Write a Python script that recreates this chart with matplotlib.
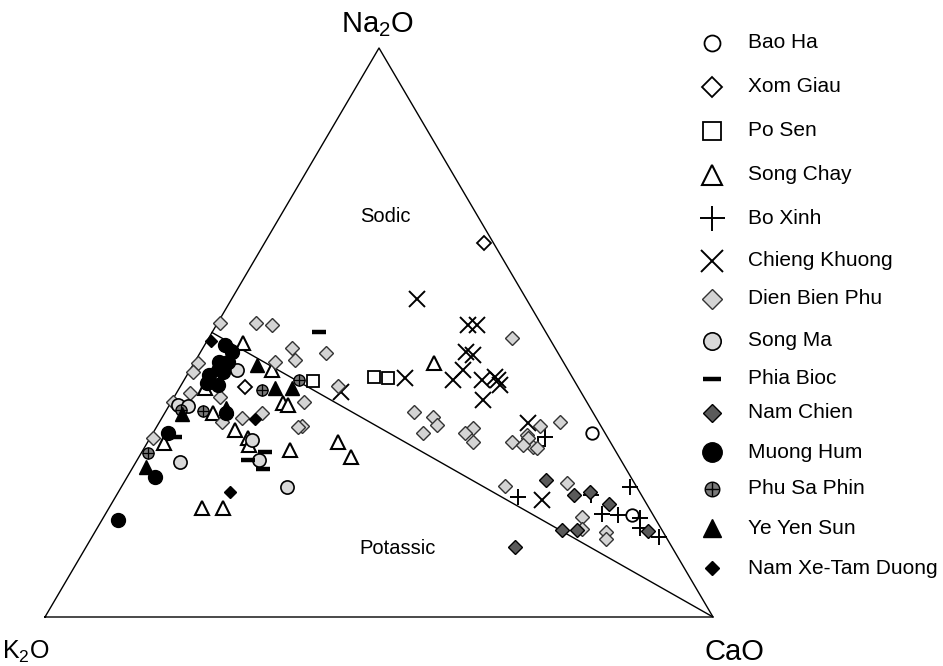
import matplotlib
matplotlib.use('Agg')
import matplotlib.pyplot as plt

plt.rcParams['font.family'] = ['Liberation Sans', 'DejaVu Sans']
plt.rcParams['mathtext.fontset'] = 'custom'
plt.rcParams['mathtext.rm'] = 'Liberation Sans'
plt.rcParams['mathtext.it'] = 'Liberation Sans:italic'

# ---- data: Na2O and CaO (normalised %); K2O = 100 - Na2O - CaO ----
bao_ha_na = [32.3, 17.9]
bao_ha_ca = [65.7, 78.9]

xom_giau_na = [65.7, 40.4]
xom_giau_ca = [32.9, 9.7]

po_sen_na = [41.5, 42.2, 42.0]
po_sen_ca = [19.4, 28.2, 30.3]

song_chay_na = [44.6, 30.8, 28.1, 32.9, 31.5, 30.2, 29.3, 19.2, 19.2, 30.6, 48.2, 43.4, 37.6, 37.3, 35.9, 40.2]
song_chay_ca = [35.9, 28.5, 31.7, 12.0, 14.7, 15.4, 22.0, 13.9, 17.0, 2.5, 5.5, 12.3, 16.8, 17.8, 7.2, 3.9]

bo_xinh_na = [31.6, 30.1, 21.1, 21.4, 22.8, 18.1, 17.9, 17.4, 15.6, 14.1]
bo_xinh_ca = [59.1, 58.8, 60.2, 71.0, 76.2, 74.4, 76.9, 80.4, 81.3, 84.8]

chieng_khuong_na = [55.9, 51.3, 51.3, 46.6, 46.0, 43.4, 41.7, 42.0, 39.5, 41.7, 41.7, 40.8, 38.1, 34.1, 20.6, 42.2]
chieng_khuong_ca = [27.8, 37.6, 39.0, 39.7, 41.1, 40.9, 40.3, 32.9, 24.5, 44.6, 46.9, 47.7, 46.5, 55.2, 64.1, 46.3]

dien_bien_phu_na = [49.0, 46.4, 40.6, 37.8, 33.6, 36.0, 35.1, 33.7, 32.3, 33.2, 32.3, 30.8, 30.8,
                    32.0, 29.9, 34.3, 33.6, 31.5, 30.2, 29.7, 23.0, 23.6, 17.6, 15.5, 14.9, 13.7,
                    51.7, 51.7, 51.3, 44.6, 43.1, 39.4, 37.8, 31.5, 47.3, 45.2, 44.8, 38.7, 34.3,
                    35.0, 35.9, 33.4]
dien_bien_phu_ca = [45.4, 18.9, 23.6, 19.9, 21.7, 37.2, 40.5, 41.8, 40.5, 47.5, 46.7, 48.7, 54.5,
                    56.2, 58.1, 59.9, 57.3, 56.5, 56.5, 58.8, 57.4, 66.3, 71.6, 72.6, 76.5, 77.1,
                    0.3, 5.8, 8.3, 0.6, 0.6, 2.0, 0.3, 0.4, 13.4, 14.8, 12.0, 6.8, 9.3,
                    12.0, 14.6, 21.2]

song_ma_na = [27.2, 31.1, 27.6, 22.8, 37.3, 37.1, 43.4]
song_ma_ca = [6.6, 15.5, 18.2, 24.8, 1.2, 2.9, 7.0]

phia_bioc_na = [50.1, 31.6, 29.0, 27.6, 26.0]
phia_bioc_ca = [15.9, 3.7, 18.4, 16.6, 19.6]

nam_chien_na = [24.1, 21.4, 22.0, 19.9, 15.1, 15.3, 15.3, 12.3]
nam_chien_ca = [62.9, 68.5, 70.6, 74.5, 82.7, 69.8, 72.0, 64.2]

muong_hum_na = [17.0, 24.6, 32.3, 46.6, 44.8, 43.1, 42.5, 40.8, 41.1, 35.9, 44.8, 47.8]
muong_hum_ca = [2.4, 4.2, 2.2, 4.7, 3.6, 5.1, 3.3, 5.5, 3.7, 9.2, 5.0, 3.0]

phu_sa_phin_na = [28.8, 36.2, 36.4, 39.9, 41.7]
phu_sa_phin_ca = [1.0, 5.6, 2.2, 12.6, 17.1]

ye_yen_sun_na = [26.4, 35.7, 44.3, 40.2, 40.2, 36.7, 43.8]
ye_yen_sun_ca = [1.9, 2.6, 9.6, 14.3, 16.9, 8.8, 3.5]

nam_xe_na = [48.5, 22.0, 34.8]
nam_xe_ca = [0.6, 16.7, 14.0]

# triangle outline and sodic/potassic divide (Na2O = K2O)
outline_na = [0, 0, 100, 0]
outline_ca = [0, 100, 0, 0]
divide_na = [50, 0]
divide_ca = [0, 100]

groups = ['Bao Ha', 'Xom Giau', 'Po Sen', 'Song Chay', 'Bo Xinh', 'Chieng Khuong',
          'Dien Bien Phu', 'Song Ma', 'Phia Bioc', 'Nam Chien', 'Muong Hum',
          'Phu Sa Phin', 'Ye Yen Sun', 'Nam Xe-Tam Duong']
data = [(bao_ha_na, bao_ha_ca), (xom_giau_na, xom_giau_ca), (po_sen_na, po_sen_ca),
        (song_chay_na, song_chay_ca), (bo_xinh_na, bo_xinh_ca),
        (chieng_khuong_na, chieng_khuong_ca), (dien_bien_phu_na, dien_bien_phu_ca),
        (song_ma_na, song_ma_ca), (phia_bioc_na, phia_bioc_ca), (nam_chien_na, nam_chien_ca),
        (muong_hum_na, muong_hum_ca), (phu_sa_phin_na, phu_sa_phin_ca),
        (ye_yen_sun_na, ye_yen_sun_ca), (nam_xe_na, nam_xe_ca)]

# marker styles: (marker, size in plot, size in legend, face, edge, edge width)
styles = [
    ('o', 9, 11.5, 'white', 'black', 1.3),
    ('D', 7.4, 10, 'white', 'black', 1.3),
    ('s', 9, 12.5, 'white', 'black', 1.3),
    ('^', 10.5, 14.5, 'white', 'black', 1.5),
    ('+', 11, 18, 'black', 'black', 1.4),
    ('x', 12, 16, 'black', 'black', 1.4),
    ('D', 7.6, 10.5, '#d4d4d4', '#333333', 1.0),
    ('o', 9.5, 12.5, '#d9d9d9', 'black', 1.2),
    ('_', 9.5, 12.5, 'black', 'black', 3.2),
    ('D', 7.4, 9.5, '#5a5a5a', 'black', 1.0),
    ('o', 10, 14, 'black', 'black', 1.0),
    ('o', 8, 10.5, '#7a7a7a', 'black', 1.0),
    ('^', 10.5, 13, 'black', 'black', 1.0),
    ('D', 6, 7.5, 'black', 'black', 1.0),
]


def tern(na, ca):
    x = [c / 100.0 + n / 200.0 for n, c in zip(na, ca)]
    y = [n / 100.0 for n in na]
    return x, y


W, H = 943, 666
fig = plt.figure(figsize=(W / 100, H / 100), dpi=100)
ax = fig.add_axes([45 / W, 49 / H, 668 / W, 569 / H])
ax.set_xlim(0, 1)
ax.set_ylim(0, 1)
ax.axis('off')

x, y = tern(outline_na, outline_ca)
ax.plot(x, y, color='black', lw=1.0, clip_on=False)
x, y = tern(divide_na, divide_ca)
ax.plot(x, y, color='black', lw=1.0, clip_on=False)

for (na, ca), (m, ms, lms, fc, ec, mew) in zip(data, styles):
    x, y = tern(na, ca)
    ax.plot(x, y, ls='none', marker=m, ms=ms, mfc=fc, mec=ec, mew=mew, clip_on=False)
    if m == 'o' and fc == '#7a7a7a':
        ax.plot(x, y, ls='none', marker='+', ms=ms, mec='black', mew=0.9, clip_on=False)

# overlay axes in pixel units for labels and legend
lax = fig.add_axes([0, 0, 1, 1])
lax.set_xlim(0, W)
lax.set_ylim(H, 0)
lax.axis('off')

lax.text(385, 216, 'Sodic', ha='center', va='center', fontsize=14.5)
lax.text(398, 548, 'Potassic', ha='center', va='center', fontsize=14.5)

lax.text(377, 25, 'Na$_2$O', ha='center', va='center', fontsize=21)
lax.text(2, 652, 'K$_2$O', ha='left', va='center', fontsize=18)
lax.text(734, 652, 'CaO', ha='center', va='center', fontsize=21)

legend_y = [43, 87, 131, 175, 218, 261, 299, 341, 379, 413, 452, 489, 528, 568]
for name, ly, (m, ms, lms, fc, ec, mew) in zip(groups, legend_y, styles):
    lax.plot([712], [ly], ls='none', marker=m, ms=lms, mfc=fc, mec=ec, mew=mew, clip_on=False)
    if m == 'o' and fc == '#7a7a7a':
        lax.plot([712], [ly], ls='none', marker='+', ms=lms, mec='black', mew=1.0, clip_on=False)
    lax.text(748, ly, name, ha='left', va='center', fontsize=15)

fig.savefig('out.png', dpi=100)
